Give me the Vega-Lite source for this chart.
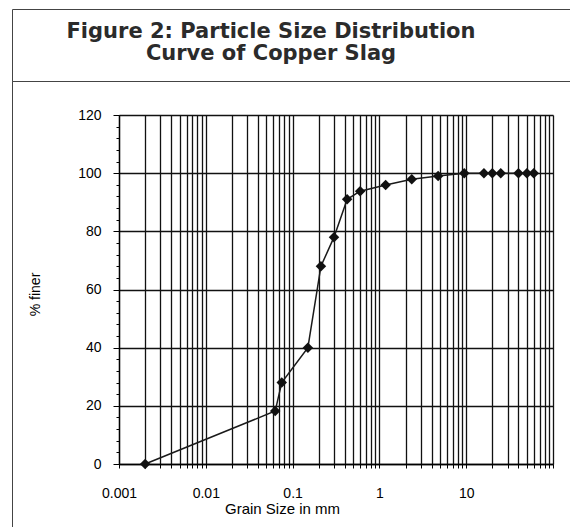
{
  "$schema": "https://vega.github.io/schema/vega-lite/v6.json",
  "padding": {"left": 11, "top": 8, "right": 0, "bottom": 0},
  "background": "white",
  "spacing": 0,
  "bounds": "flush",
  "datasets": {
    "slag": [
      {"size": 0.002, "finer": 0},
      {"size": 0.063, "finer": 18.2},
      {"size": 0.075, "finer": 28},
      {"size": 0.15, "finer": 40},
      {"size": 0.212, "finer": 68},
      {"size": 0.3, "finer": 78},
      {"size": 0.425, "finer": 91},
      {"size": 0.6, "finer": 93.8},
      {"size": 1.18, "finer": 95.9},
      {"size": 2.36, "finer": 97.9},
      {"size": 4.75, "finer": 99},
      {"size": 9.5, "finer": 100},
      {"size": 16, "finer": 100},
      {"size": 20, "finer": 100},
      {"size": 25, "finer": 100},
      {"size": 40, "finer": 100},
      {"size": 50, "finer": 100},
      {"size": 60, "finer": 100}
    ]
  },
  "vconcat": [
    {
      "width": 562,
      "height": 72,
      "view": {"stroke": "#444", "strokeWidth": 1, "fill": "white"},
      "data": {"values": [{"t": "Figure 2: Particle Size Distribution\nCurve of Copper Slag"}]},
      "mark": {"type": "text", "font": "DejaVu Sans", "fontWeight": "bold", "fontSize": 21, "lineBreak": "\n", "lineHeight": 22, "align": "center", "baseline": "alphabetic", "dx": -22, "dy": -7, "color": "#2b2b2b"},
      "encoding": {"text": {"field": "t", "type": "nominal"}}
    },
    {
      "width": 562,
      "height": 450,
      "data": {"name": "slag"},
      "layer": [
        {
          "mark": {"type": "line", "color": "#1a1a1a", "strokeWidth": 1.5},
          "encoding": {
            "x": {
              "field": "size", "type": "quantitative",
              "scale": {"type": "log", "domain": [0.001, 100], "range": [107, 541], "nice": false},
              "axis": {
                "orient": "top", "grid": true, "gridColor": "#111", "gridOpacity": 1, "gridWidth": 1.3,
                "labels": false, "ticks": false, "domain": false, "title": null, "tickCount": 200,
                "values": [0.001,0.002,0.003,0.004,0.005,0.006,0.007,0.008,0.009,0.01,0.02,0.03,0.04,0.05,0.06,0.07,0.08,0.09,0.1,0.2,0.3,0.4,0.5,0.6,0.7,0.8,0.9,1,2,3,4,5,6,7,8,9,10,20,30,40,50,60,70,80,90,100]
              }
            },
            "y": {
              "field": "finer", "type": "quantitative",
              "scale": {"domain": [0, 120], "range": [383, 34], "nice": false, "zero": true},
              "axis": {
                "orient": "left", "offset": -107, "tickCount": 200, "format": "d",
                "values": [0,4,8,12,16,20,24,28,32,36,40,44,48,52,56,60,64,68,72,76,80,84,88,92,96,100,104,108,112,116,120],
                "grid": true, "gridColor": "#111", "gridWidth": 1.3,
                "gridOpacity": {"condition": {"test": "datum.value % 20 === 0", "value": 1}, "value": 0},
                "tickSize": {"condition": {"test": "datum.value % 20 === 0", "value": 6}, "value": 3},
                "tickColor": "#000", "domainColor": "#000", "domainWidth": 1.3,
                "labelExpr": "datum.value % 20 === 0 ? datum.label : ''",
                "labelFont": "Liberation Sans", "labelFontSize": 14, "labelColor": "#000", "labelPadding": 12,
                "labelOverlap": false, "labelFlush": false,
                "title": "% finer", "titleFont": "Liberation Sans", "titleFontSize": 14, "titleFontWeight": "normal", "titleColor": "#000",
                "titleX": -80, "titleY": 213, "titleAngle": 270, "titleBaseline": "alphabetic", "titleAlign": "center"
              }
            }
          }
        },
        {
          "mark": {"type": "point", "shape": "diamond", "filled": true, "size": 110, "color": "#111", "opacity": 1},
          "encoding": {
            "x": {
              "field": "size", "type": "quantitative",
              "scale": {"type": "log", "domain": [0.001, 100], "range": [107, 541], "nice": false},
              "axis": {
                "orient": "bottom", "offset": -67, "grid": false, "tickCount": 200,
                "values": [0.001,0.002,0.003,0.004,0.005,0.006,0.007,0.008,0.009,0.01,0.02,0.03,0.04,0.05,0.06,0.07,0.08,0.09,0.1,0.2,0.3,0.4,0.5,0.6,0.7,0.8,0.9,1,2,3,4,5,6,7,8,9,10,20,30,40,50,60,70,80,90,100],
                "format": "~g",
                "labelExpr": "indexof(['0.001','0.01','0.1','1','10'], datum.label) >= 0 ? datum.label : ''",
                "labelFlush": false, "labelOverlap": false,
                "labelFont": "Liberation Sans", "labelFontSize": 14, "labelColor": "#000",
                "labelBaseline": "alphabetic", "labelPadding": 29,
                "tickSize": 4, "tickColor": "#000", "domainColor": "#000", "domainWidth": 1.3,
                "title": "Grain Size in mm", "titleFont": "Liberation Sans", "titleFontSize": 15, "titleFontWeight": "normal", "titleColor": "#000",
                "titleX": 270, "titleY": 49, "titleBaseline": "alphabetic", "titleAlign": "center"
              }
            },
            "y": {
              "field": "finer", "type": "quantitative",
              "scale": {"domain": [0, 120], "range": [383, 34], "nice": false, "zero": true}
            }
          }
        }
      ],
      "resolve": {"axis": {"x": "independent"}}
    }
  ],
  "config": {
    "view": {"stroke": "#444", "strokeWidth": 1}
  }
}
